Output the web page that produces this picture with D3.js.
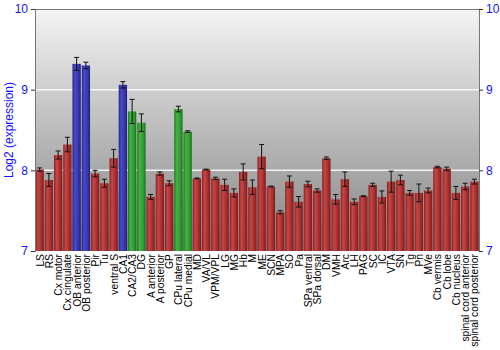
<!DOCTYPE html>
<html>
<head>
<meta charset="utf-8">
<script src="https://cdn.jsdelivr.net/npm/d3@7"></script>
<style>
  body { margin: 0; background: #fff; }
  svg { display: block; font-family: "Liberation Sans", Arial, sans-serif; }
</style>
</head>
<body>
<div id="container"></div>
<script>
/* DATA */
const regions = ["LS", "RS", "Cx motor", "Cx cingulate", "OB anterior", "OB posterior", "Pir", "Tu",
  "ventral S", "CA1", "CA2/CA3", "DG", "A anterior", "A posterior", "GP", "CPu lateral", "CPu medial",
  "MD", "VA/VL", "VPM/VPL", "LG", "MG", "Hb", "M", "ME", "SCN", "MPA", "SO", "Pa", "SPa ventral",
  "SPa dorsal", "DM", "VMH", "Arc", "LH", "PAG", "SC", "IC", "VTA", "SN", "Tg", "Pn", "MVe",
  "Cb vermis", "Cb lobe", "Cb nucleus", "spinal cord anterior", "spinal cord posterior"];
const values = [8.01, 7.88, 8.19, 8.32, 9.32, 9.30, 7.96, 7.84, 8.15, 9.06, 8.73, 8.59, 7.67, 7.96,
  7.84, 8.76, 8.48, 7.90, 8.01, 7.90, 7.82, 7.72, 7.98, 7.79, 8.17, 7.80, 7.48, 7.86, 7.61, 7.83,
  7.75, 8.15, 7.64, 7.89, 7.61, 7.68, 7.82, 7.67, 7.86, 7.88, 7.72, 7.72, 7.75, 8.04, 8.02, 7.72,
  7.80, 7.86];
const errors = [0.02, 0.08, 0.05, 0.09, 0.08, 0.04, 0.04, 0.05, 0.11, 0.04, 0.15, 0.11, 0.03, 0.02,
  0.03, 0.035, 0.01, 0.005, 0.005, 0.015, 0.07, 0.05, 0.10, 0.09, 0.15, 0.005, 0.02, 0.07, 0.065,
  0.035, 0.02, 0.015, 0.06, 0.09, 0.035, 0.005, 0.02, 0.075, 0.13, 0.06, 0.03, 0.11, 0.03, 0.01,
  0.02, 0.08, 0.04, 0.03];
const groups = ["r", "r", "r", "r", "b", "b", "r", "r", "r", "b", "g", "g", "r", "r", "r", "g", "g",
  "r", "r", "r", "r", "r", "r", "r", "r", "r", "r", "r", "r", "r", "r", "r", "r", "r", "r", "r", "r",
  "r", "r", "r", "r", "r", "r", "r", "r", "r", "r", "r"];
const yTicks = [7, 8, 9, 10];

/* CONSTANTS */
const width = 500, height = 350,
  margin = {top: 9, bottom: 99, left: 35, right: 21};

const data = regions.map((r, i) => ({name: r, value: values[i], err: errors[i], group: groups[i]}));

const svg = d3.select("#container").append("svg")
  .attr("width", width).attr("height", height);

const xScale = d3.scaleBand()
  .domain(regions)
  .range([margin.left, width - margin.right])
  .paddingInner(0.1).paddingOuter(0.05);

const yScale = d3.scaleLinear()
  .domain([7, 10])
  .range([height - margin.bottom, margin.top]);

// gradients
const defs = svg.append("defs");
const bg = defs.append("linearGradient").attr("id", "bg")
  .attr("x1", 0).attr("y1", 0).attr("x2", 0).attr("y2", 1);
bg.append("stop").attr("offset", "0%").attr("stop-color", "#f4f4f4");
bg.append("stop").attr("offset", "100%").attr("stop-color", "#838383");

const barColors = {
  r: ["#8c1f1f", "#c44848", "#a52a2a", "#7a1a1a"],
  b: ["#23238c", "#4a4ac8", "#3434aa", "#1e1e78"],
  g: ["#1e7a1e", "#44b444", "#2e9a2e", "#1a6a1a"]
};
Object.entries(barColors).forEach(([k, c]) => {
  const g = defs.append("linearGradient").attr("id", "bar-" + k)
    .attr("x1", 0).attr("y1", 0).attr("x2", 1).attr("y2", 0);
  g.append("stop").attr("offset", "0%").attr("stop-color", c[0]);
  g.append("stop").attr("offset", "30%").attr("stop-color", c[1]);
  g.append("stop").attr("offset", "75%").attr("stop-color", c[2]);
  g.append("stop").attr("offset", "100%").attr("stop-color", c[3]);
});

// plot background
svg.append("rect")
  .attr("x", margin.left).attr("y", margin.top)
  .attr("width", width - margin.right - margin.left)
  .attr("height", height - margin.bottom - margin.top)
  .attr("fill", "url(#bg)");

// grid lines
svg.selectAll(".grid")
  .data([8, 9])
  .join("line")
  .attr("class", "grid")
  .attr("x1", margin.left).attr("x2", width - margin.right)
  .attr("y1", d => yScale(d)).attr("y2", d => yScale(d))
  .attr("stroke", "#ffffff").attr("stroke-width", 1.5).attr("opacity", 0.85);

// bars
svg.selectAll(".bar")
  .data(data)
  .join("rect")
  .attr("class", "bar")
  .attr("x", d => xScale(d.name))
  .attr("width", xScale.bandwidth())
  .attr("y", d => yScale(d.value))
  .attr("height", d => yScale(7) - yScale(d.value))
  .attr("fill", d => "url(#bar-" + d.group + ")");

// error bars
const eb = svg.selectAll(".err")
  .data(data)
  .join("g")
  .attr("class", "err")
  .attr("stroke", "#111").attr("stroke-width", 1);
eb.append("line")
  .attr("x1", d => xScale(d.name) + xScale.bandwidth() / 2)
  .attr("x2", d => xScale(d.name) + xScale.bandwidth() / 2)
  .attr("y1", d => yScale(d.value + d.err))
  .attr("y2", d => yScale(d.value - d.err));
eb.selectAll(".cap")
  .data(d => [d.value + d.err, d.value - d.err].map(v => ({v, d})))
  .join("line")
  .attr("x1", c => xScale(c.d.name) + xScale.bandwidth() / 2 - 2.5)
  .attr("x2", c => xScale(c.d.name) + xScale.bandwidth() / 2 + 2.5)
  .attr("y1", c => yScale(c.v)).attr("y2", c => yScale(c.v));

// frame
svg.append("line")
  .attr("x1", margin.left).attr("x2", width - margin.right)
  .attr("y1", margin.top + 0.5).attr("y2", margin.top + 0.5)
  .attr("stroke", "#777");

// axes
const yAxisL = d3.axisLeft(yScale).tickValues(yTicks).tickFormat(d3.format("d")).tickSize(4);
const yAxisR = d3.axisRight(yScale).tickValues(yTicks).tickFormat(d3.format("d")).tickSize(4);

const gl = svg.append("g")
  .attr("transform", `translate(${margin.left},0)`)
  .call(yAxisL);
const gr = svg.append("g")
  .attr("transform", `translate(${width - margin.right},0)`)
  .call(yAxisR);
[gl, gr].forEach(g => {
  g.select(".domain").attr("stroke", "#777");
  g.selectAll(".tick line").attr("stroke", "#333");
  g.selectAll(".tick text").attr("fill", "#1010ff").attr("font-size", 12)
    .attr("font-family", "Liberation Sans, Arial, sans-serif");
});

// x labels
svg.selectAll(".xlab")
  .data(regions)
  .join("text")
  .attr("class", "xlab")
  .attr("transform", d => `translate(${xScale(d) + xScale.bandwidth() / 2 + 4},${height - margin.bottom + 3}) rotate(-90)`)
  .attr("text-anchor", "end")
  .attr("font-size", 10.3)
  .attr("fill", "#000")
  .text(d => d);

// y axis title
svg.append("text")
  .attr("transform", `translate(13,${(margin.top + height - margin.bottom) / 2}) rotate(-90)`)
  .attr("text-anchor", "middle")
  .attr("font-size", 12)
  .attr("fill", "#1010ff")
  .text("Log2 (expression)");
</script>
</body>
</html>
